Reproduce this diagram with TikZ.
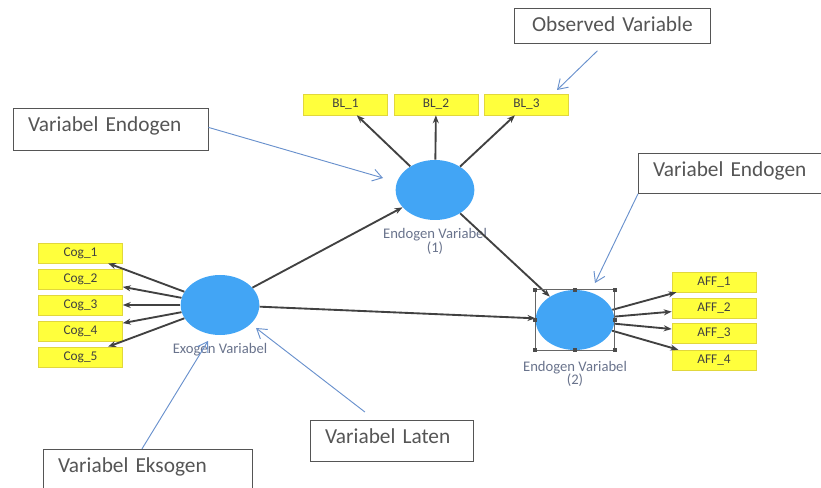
\documentclass[tikz,border=0pt]{standalone}
\usepackage{fontspec}
\setsansfont{Carlito}
\usepackage{tikz}
\usetikzlibrary{shapes.geometric,arrows.meta,positioning}
\definecolor{latblue}{RGB}{66,165,245}
\definecolor{obsyellow}{RGB}{255,255,60}
\definecolor{obsedge}{RGB}{225,215,60}
\definecolor{pathgray}{RGB}{65,65,65}
\definecolor{notegray}{RGB}{85,85,85}
\definecolor{noteblue}{RGB}{105,145,205}
\definecolor{labgray}{RGB}{105,115,140}

\begin{document}
\begin{tikzpicture}[x=0.75pt,y=-0.75pt,
    latent/.style={ellipse, fill=latblue, minimum width=59pt, minimum height=45pt, inner sep=0pt},
    obs/.style={rectangle, fill=obsyellow, draw=obsedge, minimum width=63pt, minimum height=15pt, inner sep=0pt, font=\sffamily\fontsize{10}{12}\selectfont, text=black!75},
    effect/.style={-{Stealth[length=6pt,width=4.5pt]}, draw=pathgray, line width=1.4pt},
    note/.style={rectangle, draw=notegray, line width=0.6pt, anchor=north west, inner xsep=11pt, inner ysep=6pt, text height=11pt, align=left, fill=white, font=\sffamily\fontsize{16}{19}\selectfont, text=notegray},
    pointer/.style={-{Straight Barb[length=7pt,width=9pt]}, draw=noteblue, line width=0.7pt},
    latname/.style={align=center, inner sep=0pt, font=\sffamily\fontsize{11}{10}\selectfont, text=labgray}]
    \useasboundingbox (0,0) rectangle (821,488);

    % Latent variables
    \node[latent] (ex) at (220,305) {};
    \node[latent] (e1) at (435,190) {};
    \node[latent] (e2) at (575,320) {};
    \node[latname, below=6pt of ex] (exname) {Exogen Variabel};
    \node[latname, below=6pt of e1] (e1name) {Endogen Variabel\\(1)};
    \node[latname, below=8pt of e2] (e2name) {Endogen Variabel\\(2)};

    % Observed variables
    \foreach \i/\yy in {1/253,2/279,3/305,4/331,5/357}
        \node[obs] (cog\i) at (80.5,\yy) {Cog\_\i};
    \foreach \i/\xx in {1/345.5,2/436,3/526.5}
        \node[obs, minimum height=15.75pt] (bl\i) at (\xx,104.5) {BL\_\i};
    \foreach \i/\yy in {1/282,2/308,3/333,4/360}
        \node[obs] (aff\i) at (714,\yy) {AFF\_\i};

    % Paths
    \foreach \i in {1,...,5} \draw[effect] (ex) -- (cog\i);
    \foreach \i in {1,2,3} \draw[effect] (e1) -- (bl\i);
    \foreach \i in {1,...,4} \draw[effect] (e2) -- (aff\i);
    \draw[effect] (ex) -- (e1);
    \draw[effect] (ex) -- (e2);
    \draw[effect] (e1) -- (e2);

    % Selection frame
    \coordinate (selNW) at (e2.west |- e2.north);
    \coordinate (selNE) at (e2.east |- e2.north);
    \coordinate (selSE) at (e2.east |- e2.south);
    \coordinate (selSW) at (e2.west |- e2.south);
    \draw[black!60, line width=0.5pt] (selNW) rectangle (selSE);
    \foreach \h in {selNW,e2.north,selNE,e2.east,selSE,e2.south,selSW,e2.west}
        \fill[black!70] (\h) +(-2,-2) rectangle +(2,2);

    % Notes
    \node[note, align=center, text width=125pt, text depth=3.25pt] (noteObs) at (514,8) {Observed Variable};
    \node[note, text width=124pt, text depth=8.5pt] (noteEndoL) at (13,108) {Variabel Endogen};
    \node[note, text width=117pt, text depth=7pt] (noteEndoR) at (638,153) {Variabel Endogen};
    \node[note, text width=100.25pt, text depth=7.75pt] (noteLaten) at (310,420) {Variabel Laten};
    \node[note, text width=134.75pt, text depth=15pt] (noteEkso) at (43,449) {Variabel Eksogen};

    \coordinate (tipObs) at (557,90);
    \coordinate (tipEndoL) at (383,178);
    \coordinate (tipEndoR) at (595,283);
    \coordinate (tipLaten) at (256,328);
    \coordinate (tipEkso) at (208,341);
    \draw[pointer] ([shift={(-15,7)}]noteObs.south) -- (tipObs);
    \draw[pointer] ([shift={(0,-2)}]noteEndoL.east) -- (tipEndoL);
    \draw[pointer] (noteEndoR.south west) -- (tipEndoR);
    \draw[pointer] ([shift={(-27,-8)}]noteLaten.north) -- (tipLaten);
    \draw[pointer] ([shift={(-6,0)}]noteEkso.north) -- (tipEkso);
\end{tikzpicture}
\end{document}
